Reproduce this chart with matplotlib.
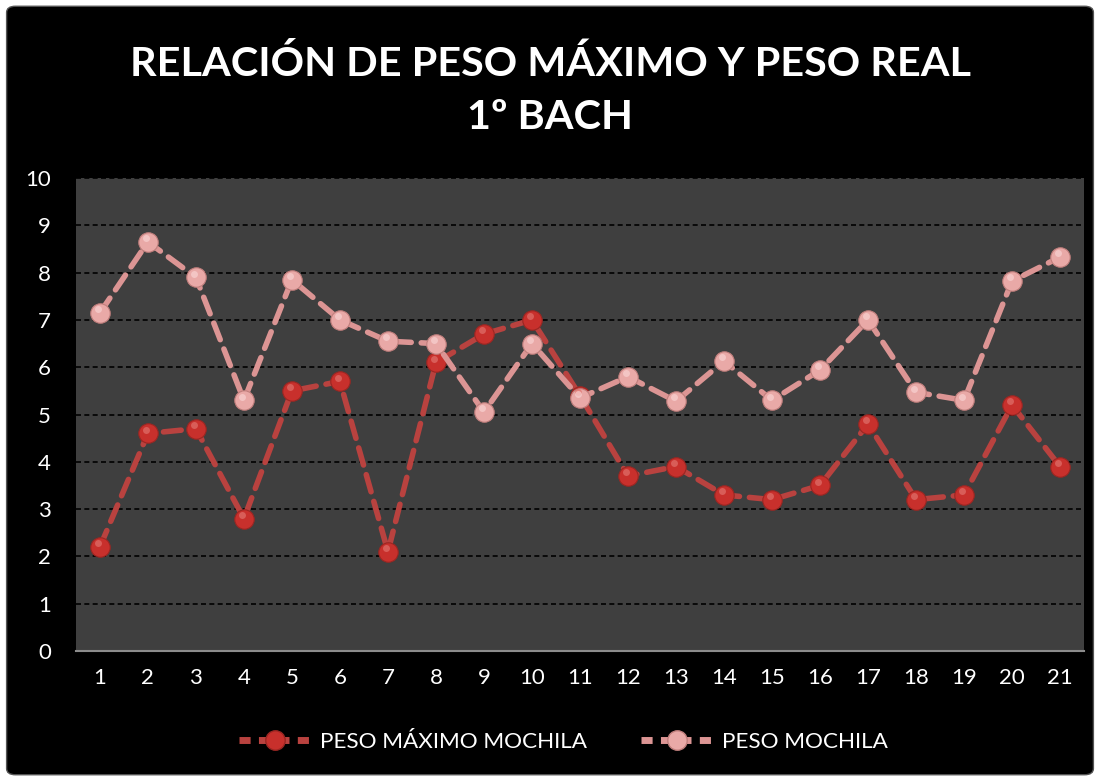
import matplotlib
matplotlib.use("Agg")
import matplotlib.pyplot as plt
from matplotlib.patches import FancyBboxPatch
from matplotlib.lines import Line2D

categories = [str(i) for i in range(1, 22)]
peso_maximo = [2.2, 4.6, 4.7, 2.8, 5.5, 5.7, 2.1, 6.1, 6.7, 7.0, 5.4,
               3.7, 3.9, 3.3, 3.2, 3.5, 4.8, 3.2, 3.3, 5.2, 3.9]
peso_mochila = [7.15, 8.65, 7.9, 5.3, 7.85, 7.0, 6.55, 6.5, 5.05, 6.5, 5.35,
                5.8, 5.28, 6.13, 5.3, 5.94, 7.0, 5.47, 5.3, 7.82, 8.33]
yticks = list(range(0, 11))

title = "RELACIÓN DE PESO MÁXIMO Y PESO REAL\n1º BACH"
label_max = "PESO MÁXIMO MOCHILA"
label_moch = "PESO MOCHILA"

plt.rcParams['font.family'] = ['Lato', 'DejaVu Sans']

fig = plt.figure(figsize=(11, 7.81), dpi=100, facecolor='white')
bg = FancyBboxPatch((0.006, 0.008), 0.988, 0.984, boxstyle="round,pad=0,rounding_size=0.008",
                    transform=fig.transFigure, facecolor='black', edgecolor='#555555',
                    linewidth=1.0, zorder=-10)
fig.patches.append(bg)

ax = fig.add_axes([0.069, 0.1665, 0.9165, 0.6055])
ax.set_facecolor('#3f3f3f')

x = list(range(1, 22))
c_max_line = '#b9423f'
c_max_mark = '#c8302c'
c_moch_line = '#dc9594'
c_moch_mark = '#e9a9a7'

ax.plot(x, peso_maximo, linestyle=(0, (3.2, 1.8)), color=c_max_line, linewidth=4.0,
        marker='o', markersize=14, markerfacecolor=c_max_mark, markeredgecolor='#9a2622',
        markeredgewidth=0.8, zorder=3, dash_capstyle='round')
ax.plot(x, peso_mochila, linestyle=(0, (3.2, 1.8)), color=c_moch_line, linewidth=4.0,
        marker='o', markersize=14, markerfacecolor=c_moch_mark, markeredgecolor='#c07e7c',
        markeredgewidth=0.8, zorder=3, dash_capstyle='round')
# highlights on spheres
ax.plot([xi - 0.05 for xi in x], [v + 0.08 for v in peso_maximo], linestyle='none', marker='o',
        markersize=5, markerfacecolor='#e0716c', markeredgecolor='none', zorder=4, alpha=0.7)
ax.plot([xi - 0.05 for xi in x], [v + 0.08 for v in peso_mochila], linestyle='none', marker='o',
        markersize=5, markerfacecolor='#f8d2d1', markeredgecolor='none', zorder=4, alpha=0.7)

ax.set_xlim(0.5, 21.5)
ax.set_ylim(0, 10)
ax.set_yticks(yticks)
ax.set_xticks(x)
ax.set_xticklabels(categories)
ax.yaxis.grid(True, color='black', linestyle=(0, (3, 2)), linewidth=1.2)
ax.set_axisbelow(True)
for s in ['top', 'right', 'left']:
    ax.spines[s].set_visible(False)
ax.spines['bottom'].set_color('#8c8c8c')
ax.spines['bottom'].set_linewidth(1.5)
ax.tick_params(axis='both', colors='white', labelsize=16, length=0, pad=12)
ax.tick_params(axis='y', pad=18)

fig.text(0.5, 0.884, title, ha='center', va='center', color='white', fontsize=29.8,
         fontweight='bold', linespacing=1.55)

h1 = Line2D([], [], linestyle=(0, (1.6, 1.2)), color=c_max_line, linewidth=5, marker='o',
            markersize=14, markerfacecolor=c_max_mark, markeredgecolor='#9a2622')
h2 = Line2D([], [], linestyle=(0, (1.6, 1.2)), color=c_moch_line, linewidth=5, marker='o',
            markersize=14, markerfacecolor=c_moch_mark, markeredgecolor='#c07e7c')
leg = fig.legend([h1, h2], [label_max, label_moch], loc='center', bbox_to_anchor=(0.512, 0.05),
                 ncol=2, frameon=False, fontsize=16.2, labelcolor='white', handlelength=3.2,
                 columnspacing=2.4, handletextpad=0.4)

fig.savefig('out.png', dpi=100, facecolor='white')
